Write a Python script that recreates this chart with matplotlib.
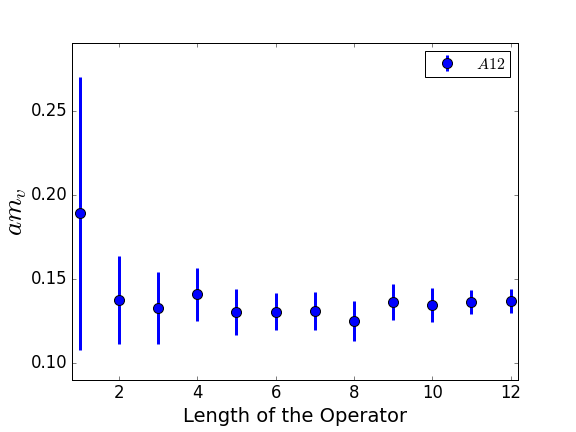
import matplotlib
matplotlib.use("Agg")
import matplotlib.pyplot as plt

plt.style.use("classic")
plt.rcParams['mathtext.fontset'] = 'cm'

length = [1, 2, 3, 4, 5, 6, 7, 8, 9, 10, 11, 12]
am_v = [0.189, 0.1376, 0.1327, 0.1410, 0.1307, 0.1307, 0.1311, 0.1251, 0.1362, 0.1346, 0.1362, 0.1370]
err = [0.081, 0.026, 0.0215, 0.0158, 0.0137, 0.011, 0.0115, 0.0118, 0.0106, 0.0100, 0.0072, 0.0072]

fig = plt.figure(figsize=(8, 6), dpi=72)
ax = fig.add_axes([0.125, 0.12, 0.775, 0.78])
ax.errorbar(length, am_v, yerr=err, fmt='o', color='blue', ecolor='blue',
            elinewidth=3, capsize=0, markersize=10, markeredgecolor='black',
            markeredgewidth=1, label=r'$A12$')
ax.set_xlim(0.8, 12.2)
ax.set_ylim(0.09, 0.29)
ax.set_xticks([2, 4, 6, 8, 10, 12])
ax.set_yticks([0.10, 0.15, 0.20, 0.25])
ax.tick_params(labelsize=16.5)
ax.set_xlabel('Length of the Operator', fontsize=19.5)
ax.set_ylabel(r'$am_v$', fontsize=27, labelpad=2)
ax.legend(loc='upper right', numpoints=1, fontsize=16, frameon=True,
          borderpad=0.35, borderaxespad=0.5)
fig.savefig('out.png', dpi=72)
